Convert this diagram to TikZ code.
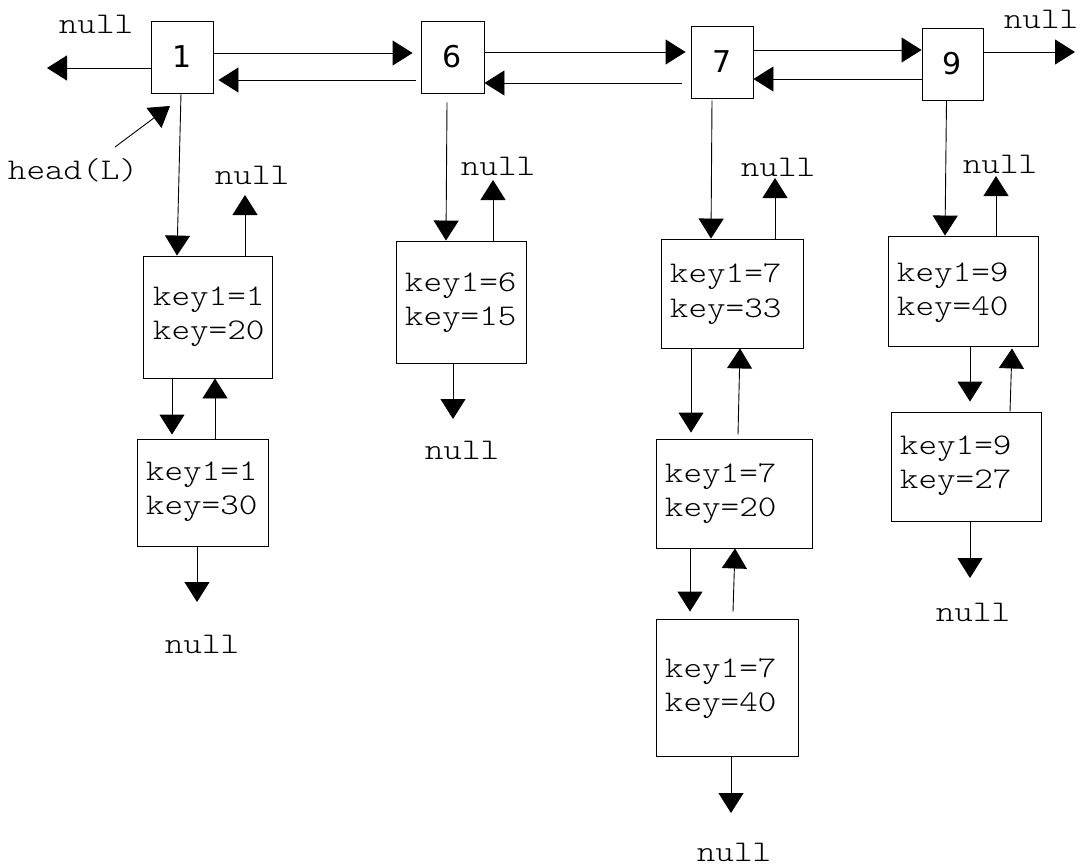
\documentclass[tikz,border=0pt]{standalone}
\usepackage{fontspec}
\setmonofont[FakeStretch=1.18]{Latin Modern Mono Light}
\newfontfamily\digitfont{DejaVu Sans}
\usetikzlibrary{arrows.meta}
\begin{document}
\begin{tikzpicture}[x=1pt,y=-1pt,line width=0.9pt,
  arr/.style={-{Triangle[length=20pt,width=25pt]}},
  boxsz/.style 2 args={draw,inner sep=0pt,minimum width=#1pt,minimum height=#2pt},
  topbox/.style={draw,inner sep=0pt,minimum width=62pt,minimum height=72pt,font=\digitfont\fontsize{30}{32}\selectfont},
  kv/.style={anchor=west,align=left,inner sep=0pt,font=\ttfamily\fontsize{30}{34.5}\selectfont},
  nl/.style={inner sep=0pt,font=\ttfamily\fontsize{30}{34}\selectfont}]
\useasboundingbox (0,0) rectangle (1082,867);

% top row
\node[topbox] (b1) at (182,57) {1};
\node[topbox,minimum width=63pt] (b6) at (452.5,57) {6};
\node[topbox] (b7) at (722,62) {7};
\node[topbox,minimum width=61pt] (b9) at (952.5,64) {9};

\node[nl] (nL) at (96,24) {null};
\node[nl] (nR) at (1041,19) {null};
\node[nl] (hl) at (73,170) {head(L)};

\coordinate (tL) at (47,68);
\coordinate (tR) at (1075,52);
\coordinate (htail) at (115,147);
\coordinate (htip) at (170,106);

% lists
\node[boxsz={129}{122}] (a1) at (207.5,317) {};
\node[boxsz={131}{107}] (a2) at (202.5,492.5) {};
\node[boxsz={130}{122}] (k6) at (461,302) {};
\node[boxsz={142}{109}] (c1) at (732,293.5) {};
\node[boxsz={156}{109}] (c2) at (734,493.5) {};
\node[boxsz={142}{137}] (c3) at (727,687.5) {};
\node[boxsz={150}{110}] (d1) at (963,291) {};
\node[boxsz={150}{109}] (d2) at (966,466.5) {};

\node[kv] (a1t) at (152.5,316.5) {key1=1\\key=20};
\node[kv] (a2t) at (145.5,491.5) {key1=1\\key=30};
\node[kv] (k6t) at (404.5,302.5) {key1=6\\key=15};
\node[kv] (c1t) at (669.5,294) {key1=7\\key=33};
\node[kv] (c2t) at (664.5,493.5) {key1=7\\key=20};
\node[kv] (c3t) at (664.5,688.5) {key1=7\\key=40};
\node[kv] (d1t) at (896.5,292.5) {key1=9\\key=40};
\node[kv] (d2t) at (899.5,465.5) {key1=9\\key=27};

% null labels
\node[nl] (na1) at (252,175) {null};
\node[nl] (na2) at (202,644) {null};
\node[nl] (nk6u) at (498,166) {null};
\node[nl] (nk6d) at (462,450) {null};
\node[nl] (nc1) at (778,167) {null};
\node[nl] (nc3) at (734,852) {null};
\node[nl] (nd1) at (1000,164) {null};
\node[nl] (nd2) at (973,612) {null};

\coordinate (ta1) at (245,195);
\coordinate (ta2) at (197,602);
\coordinate (tk6u) at (493,180);
\coordinate (tk6d) at (453,419);
\coordinate (tc1) at (775,178);
\coordinate (tc3) at (731,813);
\coordinate (td1) at (996,176);
\coordinate (td2) at (970,578);

% top connectors
\draw[arr] ([yshift=-11pt]b1.west) -- (tL);
\draw[arr] ([yshift=4pt]b1.east) -- ([yshift=4pt,xshift=-8pt]b6.west);
\draw[arr] ([yshift=-23pt,xshift=-5pt]b6.west) -- ([yshift=-23pt,xshift=5pt]b1.east);
\draw[arr] ([yshift=5pt]b6.east) -- ([yshift=10pt,xshift=-5pt]b7.west);
\draw[arr] ([yshift=-21pt,xshift=-9pt]b7.west) -- ([yshift=-26pt]b6.east);
\draw[arr] ([yshift=12pt]b7.east) -- ([yshift=14pt]b9.west);
\draw[arr] ([yshift=-15pt]b9.west) -- ([yshift=-17pt]b7.east);
\draw[arr] ([yshift=12pt]b9.east) -- (tR);
\draw[arr] (htail) -- (htip);

% column 1
\draw[arr] ([xshift=-1pt]b1.south) -- ([xshift=-30.5pt]a1.north);
\draw[arr] ([xshift=37.5pt]a1.north) -- (ta1);
\draw[arr] ([xshift=-35.5pt]a1.south) -- ([xshift=-30.5pt,yshift=4pt]a2.north);
\draw[arr] ([xshift=12.5pt]a2.north) -- ([xshift=7.5pt]a1.south);
\draw[arr] ([xshift=-5.5pt]a2.south) -- (ta2);

% column 6
\draw[arr] ([xshift=-5.5pt,yshift=-9pt]b6.south) -- ([xshift=-15pt]k6.north);
\draw[arr] ([xshift=32pt]k6.north) -- (tk6u);
\draw[arr] ([xshift=-8pt]k6.south) -- (tk6d);

% column 7
\draw[arr] ([xshift=-10pt,yshift=-2pt]b7.south) -- ([xshift=-21pt]c1.north);
\draw[arr] ([xshift=43pt]c1.north) -- (tc1);
\draw[arr] ([xshift=-41pt]c1.south) -- ([xshift=-43pt,yshift=6pt]c2.north);
\draw[arr] ([xshift=4pt,yshift=4pt]c2.north) -- ([xshift=8pt]c1.south);
\draw[arr] ([xshift=-44pt]c2.south) -- ([xshift=-37pt,yshift=7pt]c3.north);
\draw[arr] ([xshift=6pt,yshift=7pt]c3.north) -- ([xshift=1pt]c2.south);
\draw[arr] ([xshift=4pt]c3.south) -- (tc3);

% column 9
\draw[arr] ([xshift=-6pt]b9.south) -- ([xshift=-18pt]d1.north);
\draw[arr] ([xshift=33pt]d1.north) -- (td1);
\draw[arr] ([xshift=7pt]d1.south) -- ([xshift=4pt,yshift=10pt]d2.north);
\draw[arr] ([xshift=44pt]d2.north) -- ([xshift=49pt,yshift=-2pt]d1.south);
\draw[arr] ([xshift=4pt]d2.south) -- (td2);
\end{tikzpicture}
\end{document}
